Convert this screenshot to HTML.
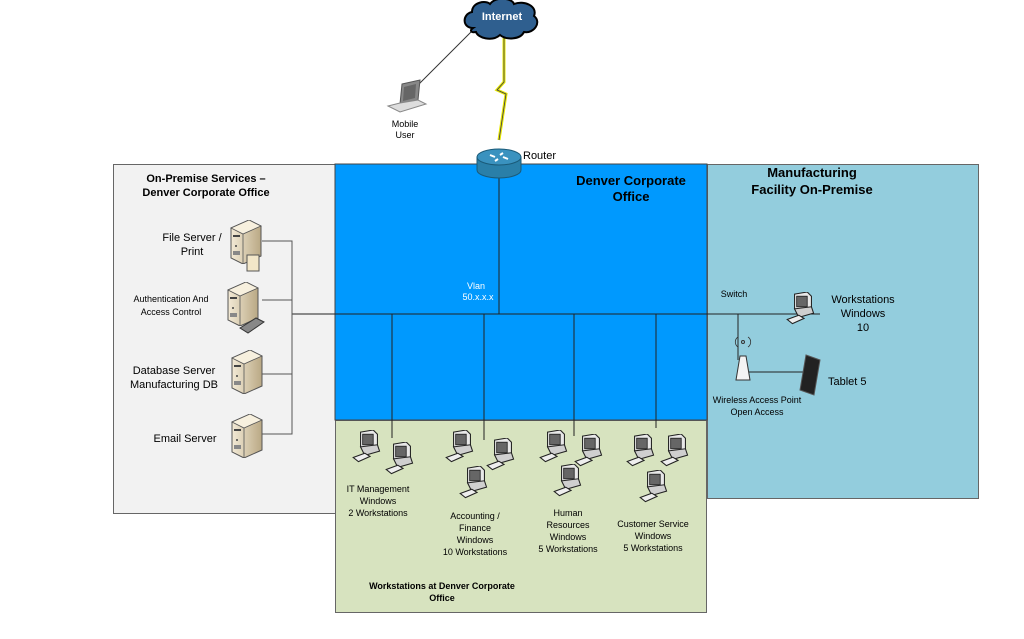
<!DOCTYPE html>
<html><head><meta charset="utf-8"><style>
html,body{margin:0;padding:0;background:#fff}
svg{display:block;font-family:"Liberation Sans",Arial,sans-serif}
</style></head><body>
<svg width="1024" height="639" viewBox="0 0 1024 639" xmlns="http://www.w3.org/2000/svg">
<defs>
<linearGradient id="srv" x1="0" x2="1"><stop offset="0" stop-color="#f3ead6"/><stop offset="1" stop-color="#b9a884"/></linearGradient>
<symbol id="pc" viewBox="0 0 32 36" width="34" height="38">
<polygon points="8,2 20,0 24,4 24,18 12,20 8,16" fill="#e8e8e8" stroke="#222" stroke-width="1"/>
<rect x="10" y="4" width="10" height="10" fill="#666" stroke="#222" stroke-width="0.8"/>
<polygon points="8,16 24,14 26,20 12,24" fill="#cfcfcf" stroke="#222" stroke-width="1"/>
<polygon points="1,26 12,22 17,25 6,30" fill="#eee" stroke="#222" stroke-width="1"/>
</symbol>
<symbol id="server" viewBox="0 0 34 44" width="34" height="44">
<polygon points="2,8 20,0 32,6 32,36 14,44 2,38" fill="url(#srv)" stroke="#555" stroke-width="1"/>
<polygon points="2,8 20,0 32,6 14,14" fill="#f7f0de" stroke="#555" stroke-width="0.8"/>
<line x1="14" y1="14" x2="14" y2="44" stroke="#555" stroke-width="0.8"/>
<rect x="4" y="15" width="7" height="2" fill="#444"/><circle cx="7" cy="26" r="1" fill="#444"/>
<rect x="4" y="31" width="7" height="4" fill="#888"/>
</symbol>
</defs>
<rect x="113.5" y="164.5" width="222" height="349" fill="#f2f2f2" stroke="#666"/>
<rect x="335.5" y="420.5" width="371" height="192" fill="#d7e3bf" stroke="#666"/>
<rect x="707.5" y="164.5" width="271" height="334" fill="#93cddd" stroke="#666"/>
<rect x="335" y="164" width="372" height="256" fill="#0099fe" stroke="#444"/>
<line x1="473" y1="30" x2="415" y2="88" stroke="#333" stroke-width="1"/>
<path d="M504,35 L504,82 L497,90 L506,94 L499,140" fill="none" stroke="#e8e800" stroke-width="3"/>
<path d="M504,35 L504,82 L497,90 L506,94 L499,140" fill="none" stroke="#335" stroke-width="0.8"/>
<path d="M473,28 C462,28 462,14 472,12 C472,2 486,0 490,4 C496,-4 512,-2 514,4 C524,0 538,6 534,16 C542,22 534,34 524,32 C520,40 506,40 500,35 C492,42 478,38 476,32 C470,33 470,30 473,28Z" fill="#2f5f8f" stroke="#000" stroke-width="2"/>
<text x="502" y="20" font-size="11" font-weight="bold" fill="#fff" text-anchor="middle">Internet</text>
<polygon points="402,84 420,80 418,100 400,104" fill="#888" stroke="#555"/>
<polygon points="404,87 416,84 415,98 403,101" fill="#666"/>
<polygon points="388,106 400,103 418,100 426,104 400,112" fill="#ddd" stroke="#888"/>
<text x="405" y="127" font-size="9" text-anchor="middle">Mobile</text>
<text x="405" y="138" font-size="9" text-anchor="middle">User</text>
<line x1="499" y1="175" x2="499" y2="314" stroke="#222"/>
<path d="M477,157 L477,170 A22,8 0 0 0 521,170 L521,157 Z" fill="#2a7fa8" stroke="#1a5a78"/>
<ellipse cx="499" cy="157" rx="22" ry="8" fill="#3a92bf" stroke="#1a5a78"/>
<path d="M490,155 l5,2 M508,159 l-5,-2 M495,161 l3,-2 M503,153 l-3,2" stroke="#fff" stroke-width="2"/>
<text x="523" y="159" font-size="11">Router</text>
<text x="631" y="185" font-size="13" font-weight="bold" text-anchor="middle">Denver Corporate</text>
<text x="631" y="201" font-size="13" font-weight="bold" text-anchor="middle">Office</text>
<text x="476" y="289" font-size="9" fill="#fff" text-anchor="middle">Vlan</text>
<text x="478" y="300" font-size="9" fill="#fff" text-anchor="middle">50.x.x.x</text>
<line x1="292" y1="314" x2="820" y2="314" stroke="#222"/>
<polyline points="262,241 292,241 292,434 262,434" fill="none" stroke="#555"/>
<line x1="262" y1="300" x2="292" y2="300" stroke="#555"/>
<line x1="262" y1="374" x2="292" y2="374" stroke="#555"/>
<line x1="392" y1="314" x2="392" y2="438" stroke="#222"/>
<line x1="484" y1="314" x2="484" y2="440" stroke="#222"/>
<line x1="574" y1="314" x2="574" y2="436" stroke="#222"/>
<line x1="656" y1="314" x2="656" y2="428" stroke="#222"/>
<text x="206" y="182" font-size="11" font-weight="bold" text-anchor="middle">On-Premise Services –</text>
<text x="206" y="196" font-size="11" font-weight="bold" text-anchor="middle">Denver Corporate Office</text>
<text x="192" y="241" font-size="11" text-anchor="middle">File Server /</text>
<text x="192" y="255" font-size="11" text-anchor="middle">Print</text>
<use href="#server" x="229" y="220"/>
<rect x="247" y="255" width="12" height="16" fill="#f2e6c8" stroke="#555"/>
<text x="171" y="302" font-size="9" text-anchor="middle">Authentication And</text>
<text x="171" y="315" font-size="9" text-anchor="middle">Access Control</text>
<use href="#server" x="226" y="282"/>
<polygon points="240,328 256,318 264,322 248,333" fill="#888" stroke="#333"/>
<text x="174" y="374" font-size="11" text-anchor="middle">Database Server</text>
<text x="174" y="388" font-size="11" text-anchor="middle">Manufacturing DB</text>
<use href="#server" x="230" y="350"/>
<text x="185" y="442" font-size="11" text-anchor="middle">Email Server</text>
<use href="#server" x="230" y="414"/>
<use href="#pc" x="352" y="430"/><use href="#pc" x="385" y="442"/>
<use href="#pc" x="445" y="430"/><use href="#pc" x="486" y="438"/><use href="#pc" x="459" y="466"/>
<use href="#pc" x="539" y="430"/><use href="#pc" x="574" y="434"/><use href="#pc" x="553" y="464"/>
<use href="#pc" x="626" y="434"/><use href="#pc" x="660" y="434"/><use href="#pc" x="639" y="470"/>
<g font-size="9" text-anchor="middle">
<text x="378" y="492">IT Management</text><text x="378" y="504">Windows</text><text x="378" y="516">2 Workstations</text>
<text x="475" y="519">Accounting /</text><text x="475" y="531">Finance</text><text x="475" y="543">Windows</text><text x="475" y="555">10 Workstations</text>
<text x="568" y="516">Human</text><text x="568" y="528">Resources</text><text x="568" y="540">Windows</text><text x="568" y="552">5 Workstations</text>
<text x="653" y="527">Customer Service</text><text x="653" y="539">Windows</text><text x="653" y="551">5 Workstations</text>
<text x="442" y="589" font-weight="bold">Workstations at Denver Corporate</text>
<text x="442" y="601" font-weight="bold">Office</text>
</g>
<text x="812" y="177" font-size="13" font-weight="bold" text-anchor="middle">Manufacturing</text>
<text x="812" y="194" font-size="13" font-weight="bold" text-anchor="middle">Facility On-Premise</text>
<text x="734" y="297" font-size="9" text-anchor="middle">Switch</text>
<use href="#pc" x="786" y="292"/>
<text x="863" y="303" font-size="11" text-anchor="middle">Workstations</text>
<text x="863" y="317" font-size="11" text-anchor="middle">Windows</text>
<text x="863" y="331" font-size="11" text-anchor="middle">10</text>
<line x1="738" y1="314" x2="738" y2="360" stroke="#222"/>
<line x1="743" y1="372" x2="803" y2="372" stroke="#222"/>
<path d="M740,356 L746,356 L750,380 L736,380 Z" fill="#f4f4f4" stroke="#333"/>
<circle cx="743" cy="342" r="1.5" fill="none" stroke="#333"/>
<path d="M738,337 a6,6 0 0 0 0,10 M748,337 a6,6 0 0 1 0,10" fill="none" stroke="#333" stroke-width="0.8"/>
<polygon points="806,355 820,360 814,395 800,390" fill="#222" stroke="#555"/>
<text x="828" y="385" font-size="11">Tablet 5</text>
<text x="757" y="403" font-size="9" text-anchor="middle">Wireless Access Point</text>
<text x="757" y="415" font-size="9" text-anchor="middle">Open Access</text>
</svg>
</body></html>
